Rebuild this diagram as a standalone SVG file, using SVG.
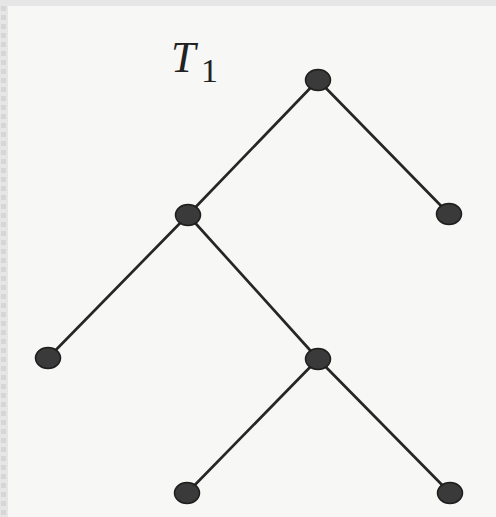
<svg xmlns="http://www.w3.org/2000/svg" width="496" height="517" viewBox="0 0 496 517">
<style>
.edge{stroke:#262626;stroke-width:2.7;fill:none;stroke-linecap:round}
.node{fill:#3a3a3a;stroke:#1e1e1e;stroke-width:1.5}
.lbl{font-family:"Liberation Serif","Times New Roman",serif;fill:#222}
</style>
<rect x="0" y="0" width="496" height="517" fill="#e6e6e6"/>
<rect x="8" y="6" width="488" height="511" fill="#f7f7f5"/>
<line x1="3.5" y1="6" x2="3.5" y2="517" stroke="#d6d6d6" stroke-width="5" stroke-dasharray="5 4"/>
<g id="label"><text class="lbl" x="171" y="72" font-size="44" font-style="italic">T</text><text class="lbl" x="201" y="82" font-size="34">1</text></g>
<g id="connectors">
<line class="edge" x1="318" y1="80" x2="188" y2="215"/>
<line class="edge" x1="318" y1="80" x2="449" y2="214"/>
<line class="edge" x1="188" y1="215" x2="48" y2="358"/>
<line class="edge" x1="188" y1="215" x2="318" y2="359"/>
<line class="edge" x1="318" y1="359" x2="187" y2="493"/>
<line class="edge" x1="318" y1="359" x2="450" y2="493"/>
</g>
<g id="n-root"><ellipse class="node" cx="318" cy="80" rx="12.5" ry="10.5"/></g>
<g id="n-left"><ellipse class="node" cx="188" cy="215" rx="12.5" ry="10.5"/></g>
<g id="n-right"><ellipse class="node" cx="449" cy="214" rx="12.5" ry="10.5"/></g>
<g id="n-ll"><ellipse class="node" cx="48" cy="358" rx="12.5" ry="10.5"/></g>
<g id="n-mid"><ellipse class="node" cx="318" cy="359" rx="12.5" ry="10.5"/></g>
<g id="n-bl"><ellipse class="node" cx="187" cy="493" rx="12.5" ry="10.5"/></g>
<g id="n-br"><ellipse class="node" cx="450" cy="493" rx="12.5" ry="10.5"/></g>
</svg>
